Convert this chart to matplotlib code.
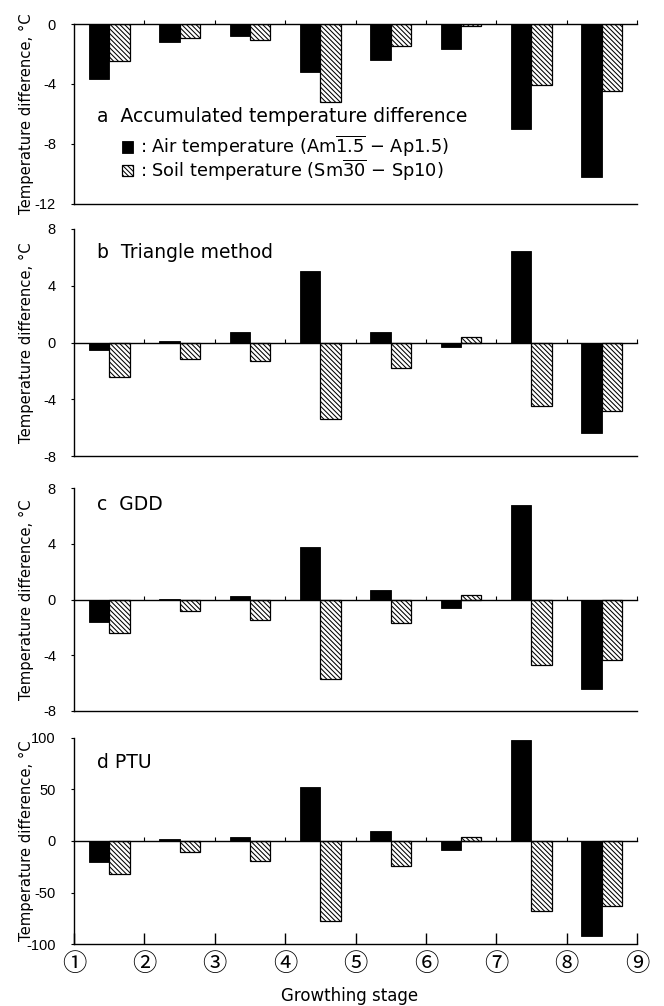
import numpy as np
import matplotlib
matplotlib.use("Agg")
import matplotlib.pyplot as plt

plt.rcParams['font.family'] = ['DejaVu Sans']
plt.rcParams['axes.unicode_minus'] = False
plt.rcParams['hatch.linewidth'] = 0.75

# ---------------- data ----------------
stage_labels = ['①', '②', '③', '④', '⑤', '⑥', '⑦', '⑧', '⑨']
stages = np.arange(1, 9)  # each stage interval starts at these positions

air_a = [-3.7, -1.2, -0.8, -3.2, -2.4, -1.7, -7.05, -10.2]
soil_a = [-2.45, -0.95, -1.1, -5.2, -1.45, -0.15, -4.1, -4.45]

air_b = [-0.5, 0.1, 0.75, 5.05, 0.73, -0.33, 6.43, -6.4]
soil_b = [-2.4, -1.13, -1.3, -5.4, -1.8, 0.42, -4.5, -4.8]

air_c = [-1.58, 0.05, 0.22, 3.8, 0.7, -0.62, 6.8, -6.42]
soil_c = [-2.42, -0.84, -1.46, -5.7, -1.7, 0.29, -4.7, -4.34]

air_d = [-20, 1.5, 3.6, 52, 10, -8.4, 97.5, -92]
soil_d = [-31.6, -10.6, -19.4, -77.7, -24, 4.2, -67.7, -63]

panel_titles = ['a  Accumulated temperature difference', 'b  Triangle method',
                'c  GDD', 'd PTU']
ylims = [(-12, 0), (-8, 8), (-8, 8), (-100, 100)]
yticks = [[0, -4, -8, -12], [-8, -4, 0, 4, 8], [-8, -4, 0, 4, 8],
          [-100, -50, 0, 50, 100]]
air_label = r': Air temperature (Am$\overline{\mathrm{1.5}}$ $-$ Ap1.5)'
soil_label = r': Soil temperature (Sm$\overline{\mathrm{30}}$ $-$ Sp10)'
ylabel = 'Temperature difference, °C'
xlabel = 'Growthing stage'

# ---------------- layout ----------------
W, H = 664, 1006
fig = plt.figure(figsize=(W / 100, H / 100), dpi=100)

left_px, right_px = 74, 637
boxes = [(24, 203.5), (229, 456), (488, 711), (737.7, 944.3)]
title_y = [117, 252, 505, 762]
title_x = 97

bw = 0.29
data = [(air_a, soil_a), (air_b, soil_b), (air_c, soil_c), (air_d, soil_d)]

axes = []
for i, ((top, bot), (air, soil)) in enumerate(zip(boxes, data)):
    ax = fig.add_axes([left_px / W, 1 - bot / H, (right_px - left_px) / W, (bot - top) / H])
    axes.append(ax)
    b_air = ax.bar(stages + 0.5 - bw / 2, air, bw, color='black', edgecolor='black',
                   linewidth=0.6, zorder=2)
    b_soil = ax.bar(stages + 0.5 + bw / 2, soil, bw, color='white', edgecolor='black',
                    hatch='\\' * 7, linewidth=0.9, zorder=2)
    ax.set_xlim(1, 9)
    ax.set_ylim(*ylims[i])
    ax.set_yticks(yticks[i])
    ax.spines['top'].set_visible(False)
    ax.spines['right'].set_visible(False)
    ax.spines['left'].set_linewidth(1.0)
    # zero line with upward ticks at stage boundaries
    ax.spines['bottom'].set_position(('data', 0))
    ax.spines['bottom'].set_linewidth(1.0)
    ax.spines['bottom'].set_zorder(3)
    ax.set_xticks(range(2, 10))
    ax.tick_params(axis='x', direction='in', length=3, width=0.8, labelbottom=False)
    ax.tick_params(axis='y', direction='out', length=2.5, width=0.8, pad=10.5,
                   labelsize=10.5)
    for t in ax.get_yticklabels():
        t.set_fontfamily('Liberation Sans')
    # frame line at the bottom of the panel
    sec = ax.secondary_xaxis(0.0)
    sec.spines['bottom'].set_linewidth(1.0)
    if i < 3:
        sec.set_xticks([])
    else:
        sec.set_xticks(range(1, 10), labels=stage_labels)
        sec.tick_params(direction='in', length=8, width=1.0, pad=5, labelsize=17.5)
        for t in sec.get_xticklabels():
            t.set_fontfamily(['Noto Sans CJK JP', 'DejaVu Sans'])
    ax.set_ylabel(ylabel, fontsize=10.6)
    ax.yaxis.set_label_coords((26 - left_px) / (right_px - left_px), 0.5)
    ax.yaxis.label.set_va('center')
    fig.text(title_x / W, 1 - title_y[i] / H, panel_titles[i], fontsize=13.5,
             va='center', ha='left')
    if i == 0:
        fig.legend([b_air, b_soil], [air_label, soil_label], loc='upper left',
                   bbox_to_anchor=(122 / W, 1 - 134 / H), frameon=False,
                   fontsize=12.8, handlelength=0.6, handleheight=0.6,
                   handletextpad=0.4, borderpad=0, borderaxespad=0,
                   labelspacing=-0.1)

axd = axes[3]
axd.set_xlabel(xlabel, fontsize=12)
axd.xaxis.set_label_coords((350 - left_px) / (right_px - left_px),
                           -(996 - 944.3) / (944.3 - 737.7))
axd.xaxis.label.set_va('center')

fig.savefig('out.png', dpi=100)
